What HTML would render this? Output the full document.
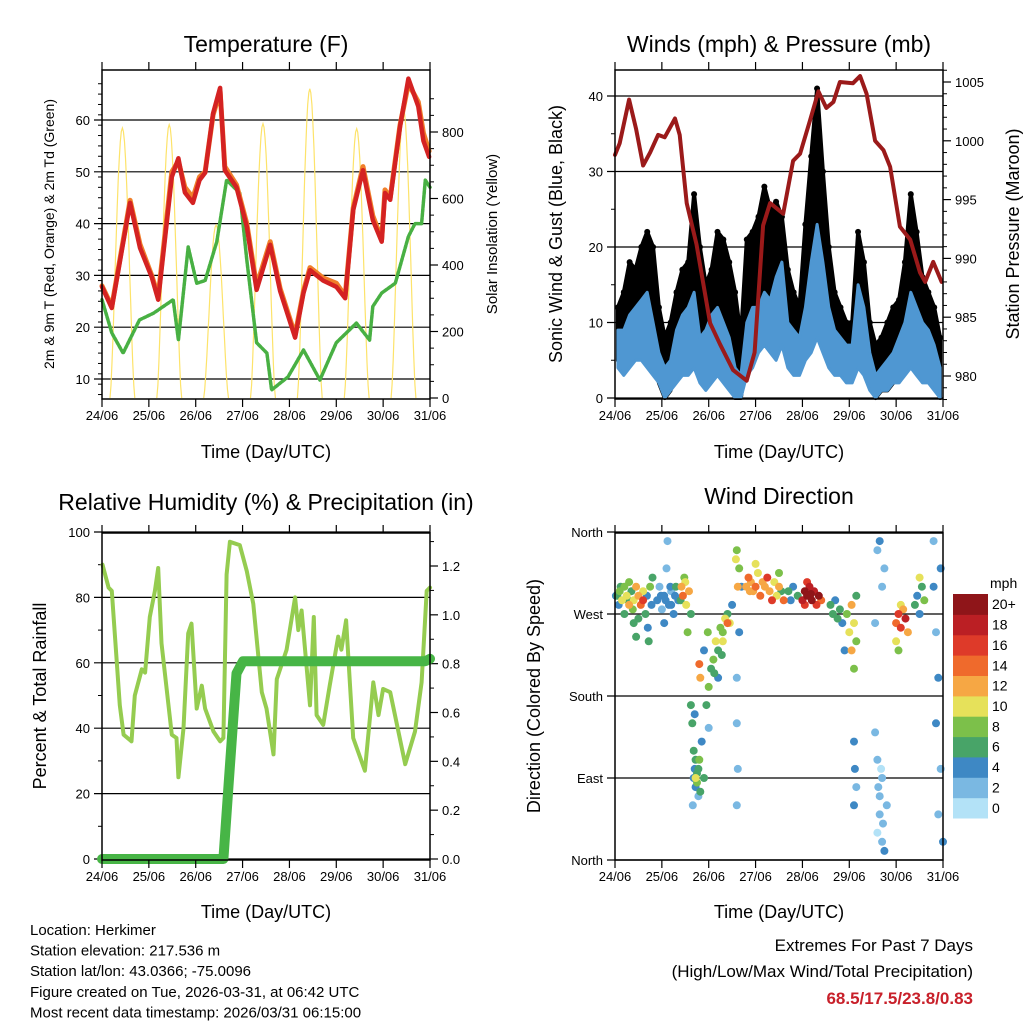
<!DOCTYPE html>
<html><head><meta charset="utf-8"><style>
body{margin:0;background:#fff;}
svg{display:block;font-family:"Liberation Sans",sans-serif;}
</style></head><body>
<svg id="c" width="1024" height="1024" viewBox="0 0 1024 1024"></svg>
<script>
// ---------- DATA ----------
const dayLabels=["24/06","25/06","26/06","27/06","28/06","29/06","30/06","31/06"];
// Temperature (F)
const tempT=[0,0.21,0.6,0.81,1.06,1.2,1.49,1.63,1.77,1.94,2.08,2.2,2.37,2.52,2.62,2.87,3.09,3.3,3.59,3.8,4.12,4.3,4.44,4.72,5.0,5.19,5.36,5.57,5.78,5.97,6.04,6.15,6.36,6.54,6.75,6.86,6.98];
const tempV=[27.8,23.7,44,35.3,29.7,25.3,49,52.6,46,44,48.4,49.8,61.3,66.2,50.3,47,39.4,27.2,35.9,27,18,26.6,31,29,27.8,25.6,42.6,50.3,40.7,36.5,45.9,44.6,58.7,68,62.6,56,52.9];
const temp9V=[28,24,44.5,36,30,26,50,52,47,45,49,50,61,65.5,51,47.5,40,28,36.5,27.5,18.5,27,31.5,29.5,28.5,26,43,51,41.5,37,46.5,45,59,67,63.5,57.5,54];
const dewT=[0,0.21,0.45,0.8,1.1,1.52,1.63,1.84,2.02,2.2,2.45,2.66,2.94,3.09,3.3,3.52,3.62,3.97,4.3,4.65,5.0,5.43,5.71,5.78,5.97,6.26,6.54,6.68,6.82,6.9,7.0];
const dewV=[25.3,18.9,15,21.4,22.7,25.3,17.5,35.5,28.5,29,36.5,48.4,45.9,33,17,15,7.9,10.4,15.6,9.8,17,20.8,17.5,24,26.6,28.5,37.5,40,40,48.4,47];
const solarDay=[0,1,2,3,4,5,6];
const solarPeak=[812,822,520,825,930,810,866];
// Winds (mph) 3-hourly bins & pressure (mb)
const gustV=[12,14,18,17,20,22,20,12, 8,10,14,17,18,27,20,15, 17,22,21,18,14,8,21,22, 24,28,25,26,24,17,14,12, 23,32,41,30,20,14,12,10, 10,22,18,10,7,8,10,12, 13,18,27,22,16,14,12,8];
const windHiV=[9,9,11,12,13,14,10,6, 4,5,9,11,12,14,8,9, 11,12,10,8,4,3,10,12, 12,14,13,16,18,10,9,8, 12,18,23,18,12,9,8,7, 7,15,12,6,3,4,5,6, 8,10,14,12,10,9,7,4];
const windLoV=[4,3,4,5,5,4,3,2, 0,1,2,3,3,4,2,1, 2,3,2,1,0,0,3,4, 6,7,6,5,7,4,3,3, 5,6,8,6,4,3,3,2, 2,4,3,1,0,1,1,2, 2,3,4,3,2,2,1,0];
const presT=[0,0.1,0.3,0.45,0.6,0.75,0.92,1.06,1.28,1.38,1.53,1.74,2.03,2.24,2.52,2.81,2.98,3.16,3.31,3.59,3.8,3.95,4.16,4.34,4.51,4.66,4.8,5.08,5.23,5.37,5.55,5.73,5.87,6.08,6.3,6.51,6.62,6.79,6.97];
const presV=[998.8,999.8,1003.5,1001,997.9,999,1000.5,1000.3,1001.9,1000.5,994.7,991.2,984.5,982.7,980.5,979.6,982,992.8,994.7,993.8,998.3,998.9,1001.7,1004.2,1002.8,1003.3,1005,1004.9,1005.5,1004,1000,999.2,997.8,992.7,991.6,988.8,988,989.7,988];
// RH (%) & precip (in)
const rhT=[0.01,0.14,0.21,0.38,0.46,0.63,0.7,0.85,0.92,1.02,1.13,1.2,1.27,1.49,1.59,1.63,1.74,1.84,1.91,2.02,2.13,2.2,2.38,2.52,2.59,2.66,2.73,2.94,3.09,3.23,3.41,3.51,3.66,3.73,3.94,4.12,4.19,4.26,4.44,4.52,4.58,4.72,4.86,5.04,5.11,5.21,5.36,5.61,5.79,5.9,6.0,6.15,6.47,6.68,6.82,6.93,7.0];
const rhV=[90,83,82,47,38,36,50,58,57,74,82,89,66,38,37,25,40,69,72,46,53,46,39,36,37,87,97,96,88,78,51,46,32,55,64,80,70,76,47,74,44,41,53,68,64,73,37,27,54,44,52,51,29,39,54,82,83];
const precT=[0,2.59,2.7,2.87,3.01,6.9,7.0];
const precV=[0,0,0.3,0.76,0.81,0.81,0.82];
// Wind direction obs: [day, degrees, mph]
const dirObs=[[0.05,290,6],[0.1,295,8],[0.15,285,10],[0.2,300,9],[0.25,290,11],[0.3,280,12],[0.35,295,7],[0.4,285,10],[0.45,300,13],[0.5,290,12],[0.55,280,14],[0.6,295,11],[0.65,270,6],[0.7,255,4],[0.72,240,6],[0.75,300,9],[0.8,310,7],[0.08,280,5],[0.3,305,8],[0.6,285,16],[0.2,270,7],[0.4,260,6],[0.45,245,7],[0.02,290,5],[0.12,300,6],[0.28,285,7],[0.38,275,8],[0.5,265,6],[0.68,290,4],[0.78,280,4],
[0.9,285,4],[0.95,300,3],[1.0,275,2],[1.05,290,4],[1.1,320,3],[1.12,350,2],[1.15,280,5],[1.2,295,3],[1.25,270,4],[1.3,300,6],[1.35,285,4],[1.05,260,4],[1.2,280,4],[0.98,290,4],[1.08,285,5],[1.18,300,4],[1.28,290,4],
[1.42,300,12],[1.45,290,14],[1.5,305,11],[1.52,280,10],[1.55,250,8],[1.58,295,13],[1.62,270,6],[1.48,310,9],[1.4,285,7],
[1.65,150,6],[1.68,120,7],[1.7,100,5],[1.72,80,4],[1.75,95,6],[1.78,70,3],[1.8,110,8],[1.7,160,5],[1.85,130,4],[1.9,90,7],[1.62,170,6],[1.66,60,3],[1.95,170,7],[2.0,190,8],[2.05,210,6],[1.9,230,5],[1.98,250,9],[2.0,145,3],[1.75,85,8],[1.72,90,10],[1.8,215,15],[1.82,200,12],[1.72,110,6],[1.78,100,7],[1.68,90,4],[1.82,75,6],
[2.1,220,8],[2.15,240,10],[2.2,230,7],[2.25,255,9],[2.3,250,8],[2.35,265,11],[2.4,270,6],[2.45,260,10],[2.5,280,4],[2.2,200,5],[2.3,240,10],[2.4,260,14],[2.12,205,6],[2.28,225,6],
[2.58,330,10],[2.6,340,9],[2.62,300,12],[2.65,320,8],[2.6,200,3],[2.6,150,2],[2.62,100,3],[2.6,60,2],[2.65,250,4],[2.7,300,4],
[2.8,300,12],[2.85,310,14],[2.9,305,13],[2.95,295,12],[3.0,300,15],[3.05,315,11],[3.1,290,14],[3.2,300,13],[3.25,310,16],[3.3,295,12],[3.4,305,11],[3.45,290,10],[3.5,300,13],[3.6,285,14],[3.7,295,6],[3.8,300,5],[3.9,290,6],[3.0,325,10],[3.5,315,9],[3.35,285,16],[2.88,295,12],[3.15,305,12],[3.55,295,6],[3.75,285,5],
[4.0,285,18],[4.05,295,20],[4.1,290,22],[4.15,300,19],[4.2,285,21],[4.25,295,18],[4.3,280,16],[4.35,290,20],[4.1,305,17],[4.4,285,14],[4.05,280,16],[4.18,292,21],
[4.6,280,6],[4.65,270,7],[4.7,285,5],[4.8,275,6],[4.85,260,4],[4.95,270,8],[5.0,250,10],[5.05,280,12],[5.1,260,11],[5.15,240,9],[5.1,210,8],[5.05,230,13],[4.9,230,4],[5.15,290,6],[4.75,265,6],
[5.1,130,4],[5.12,100,5],[5.15,80,3],[5.1,60,4],
[5.55,140,2],[5.6,110,3],[5.62,80,2],[5.65,50,3],[5.7,20,2],[5.6,30,1],[5.68,100,1],[5.7,300,3],[5.6,340,2],[5.65,350,4],[5.75,320,3],[5.55,260,2],[5.8,60,3],[5.75,10,4],[5.7,90,2],[5.65,70,2],[5.72,40,3],
[6.0,260,14],[6.05,270,17],[6.1,255,16],[6.15,275,13],[6.2,265,18],[6.25,250,12],[6.0,240,10],[6.1,280,11],[6.05,230,8],
[6.4,280,6],[6.45,290,5],[6.5,270,4],[6.55,300,7],[6.6,285,9],[6.5,310,10],
[6.8,300,4],[6.85,250,3],[6.9,200,5],[6.85,150,4],[6.95,100,3],[6.9,50,2],[7.0,20,4],[6.95,320,5],[6.8,350,3]];
const speedColors=["#b3e2f7","#7ab8e2","#3e88c4","#48a468","#7cc04a","#e6e15a","#f6a744","#ef6a2c","#de3a29","#bb1f24","#8f1519"];
const speedLabels=["0","2","4","6","8","10","12","14","16","18","20+"];

// ---------- HELPERS ----------
const NS="http://www.w3.org/2000/svg";
const svg=document.getElementById('c');
function mk(tag,attrs,parent){const e=document.createElementNS(NS,tag);for(const k in attrs)e.setAttribute(k,attrs[k]);(parent||svg).appendChild(e);return e;}
function txt(s,x,y,size,anchor,parent,extra){const t=mk('text',Object.assign({x:x,y:y,'font-size':size,'text-anchor':anchor||'middle',fill:'#000'},extra||{}),parent);t.textContent=s;return t;}
function lin(d0,d1,r0,r1){return v=>r0+(v-d0)/(d1-d0)*(r1-r0);}

function panel(name){
  const g=mk('g',{});
  
  
  return g;
}
function frame(g,L,R,T,B){mk('rect',{x:L,y:T,width:R-L,height:B-T,fill:'none',stroke:'#000','stroke-width':1.5},g);}
function xAxis(g,L,R,T,B){
  const X=lin(0,7,L,R);
  for(let i=0;i<=7;i++){const x=X(i);
    mk('line',{x1:x,x2:x,y1:B,y2:B+8,stroke:'#000','stroke-width':1.2},g);
    mk('line',{x1:x,x2:x,y1:T,y2:T-8,stroke:'#000','stroke-width':1.2},g);
    const t=txt(dayLabels[i],x,B+21,13,'middle',g);
    
    
  }
  return X;
}
function leftTicks(g,L,R,Y,vals,labels,grid,minor){
  vals.forEach((v,i)=>{const y=Y(v);
    if(grid) mk('line',{x1:L-8,x2:R,y1:y,y2:y,stroke:'#000','stroke-width':1.2},g);
    else mk('line',{x1:L-8,x2:L,y1:y,y2:y,stroke:'#000','stroke-width':1.2},g);
    const t=txt(labels[i],L-12,y+5,13,'end',g);
    
    
  });
  (minor||[]).forEach(v=>{const y=Y(v);mk('line',{x1:L-4,x2:L,y1:y,y2:y,stroke:'#000','stroke-width':1},g);});
}
function rightTicks(g,R,Y,vals,labels,minor){
  vals.forEach((v,i)=>{const y=Y(v);
    mk('line',{x1:R,x2:R+8,y1:y,y2:y,stroke:'#000','stroke-width':1.2},g);
    const t=txt(labels[i],R+12,y+5,13,'start',g);
    
    
  });
  (minor||[]).forEach(v=>{const y=Y(v);mk('line',{x1:R,x2:R+4,y1:y,y2:y,stroke:'#000','stroke-width':1},g);});
}
function poly(g,xs,ys,X,Y,stroke,w,name){
  const p=mk('polyline',{points:xs.map((t,i)=>X(t).toFixed(1)+','+Y(ys[i]).toFixed(1)).join(' '),fill:'none',stroke:stroke,'stroke-width':w,'stroke-linejoin':'round','stroke-linecap':'round'},g);
  
  
  return p;
}
function rot(s,x,y,size,g,name){const t=txt(s,x,y,size,'middle',g,{transform:`rotate(-90 ${x} ${y})`});return t;}
function title(s,x,y,g,name){const t=txt(s,x,y,23,'middle',g);}
function range(a,b,s){const r=[];for(let v=a;v<=b+1e-9;v+=s)r.push(+v.toFixed(4));return r;}

// ---------- PANEL 1: TEMPERATURE ----------
(function(){
  const L=102,R=430,T=70,B=399;
  const g=panel('temperature-chart');
  const X=lin(0,7,L,R), Y=lin(10,60,379,120), Ys=lin(0,800,398,132);
  leftTicks(g,L,R,Y,[10,20,30,40,50,60],["10","20","30","40","50","60"],true,range(7,68,2).filter(v=>v%10));
  rightTicks(g,R,Ys,[0,200,400,600,800],["0","200","400","600","800"],range(50,900,50).filter(v=>v%200));
  solarDay.forEach((d,i)=>{
    const pts=[];for(let k=0;k<=24;k++){const f=k/24;const t=d+0.17+f*0.53;const v=solarPeak[i]*Math.pow(Math.sin(Math.PI*f),1.5);pts.push(X(t).toFixed(1)+','+Ys(v).toFixed(1));}
    const p=mk('polyline',{points:pts.join(' '),fill:'none',stroke:'#fde36a','stroke-width':1.2},g);
    
    
  });
  poly(g,dewT,dewV,X,Y,'#48b043',3.5,'dewpoint-line').setAttribute('stroke-dasharray','3 1.5');
  poly(g,tempT,temp9V,X,Y,'#f07f2a',5,'temp-9m-line');
  poly(g,tempT,tempV,X,Y,'#d42222',4.5,'temp-2m-line');
  frame(g,L,R,T,B);
  xAxis(g,L,R,T,B);
  title('Temperature (F)',266,52,g,'temperature-title');
  rot('2m & 9m T (Red, Orange) & 2m Td (Green)',54,234,14,g,'temperature-y-axis-title');
  rot('Solar Insolation (Yellow)',497,234,15,g,'solar-y-axis-title');
  const xl=txt('Time (Day/UTC)',266,458,18,'middle',g);
})();

// ---------- PANEL 2: WINDS ----------
(function(){
  const L=615,R=943,T=70,B=399;
  const g=panel('winds-pressure-chart');
  const X=lin(0,7,L,R), Y=lin(0,40,398,96), Yp=lin(980,1005,376,82);
  leftTicks(g,L,R,Y,[0,10,20,30,40],["0","10","20","30","40"],true,range(5,40,5).filter(v=>v%10));
  rightTicks(g,R,Yp,[980,985,990,995,1000,1005],["980","985","990","995","1000","1005"],range(978,1006,1).filter(v=>v%5));
  const n=gustV.length;
  const bt=i=>i/8+1/16;
  let up=[],dn=[];
  for(let i=0;i<n;i++){up.push(X(bt(i)).toFixed(1)+','+Y(gustV[i]).toFixed(1));dn.unshift(X(bt(i)).toFixed(1)+','+Y(Math.max(windLoV[i],windHiV[i]-4)).toFixed(1));}
  let p=mk('polygon',{points:up.concat(dn).join(' '),fill:'#000',stroke:'#000','stroke-width':4,'stroke-linejoin':'round'},g);
  
  for(let i=0;i<n;i++){const c=mk('circle',{cx:X(bt(i)),cy:Y(gustV[i]),r:3,fill:'#000'},g);
    
    }
  up=[];dn=[];
  for(let i=0;i<n;i++){up.push(X(bt(i)).toFixed(1)+','+Y(windHiV[i]).toFixed(1));dn.unshift(X(bt(i)).toFixed(1)+','+Y(windLoV[i]).toFixed(1));}
  p=mk('polygon',{points:up.concat(dn).join(' '),fill:'#4f97d2',stroke:'#4f97d2','stroke-width':3,'stroke-linejoin':'round'},g);
  
  poly(g,presT,presV,X,Yp,'#9b1a1a',4,'pressure-line');
  frame(g,L,R,T,B);
  xAxis(g,L,R,T,B);
  title('Winds (mph) & Pressure (mb)',779,52,g,'winds-title');
  rot('Sonic Wind & Gust (Blue, Black)',562,234,18,g,'wind-y-axis-title');
  rot('Station Pressure (Maroon)',1019,234,18,g,'pressure-y-axis-title');
  const xl=txt('Time (Day/UTC)',779,458,18,'middle',g);
})();

// ---------- PANEL 3: RH ----------
(function(){
  const L=102,R=430,T=533,B=860;
  const g=panel('humidity-precip-chart');
  const X=lin(0,7,L,R), Y=lin(0,100,859,532), Yr=lin(0,1.2,859,566);
  leftTicks(g,L,R,Y,[0,20,40,60,80,100],["0","20","40","60","80","100"],true,range(10,90,20));
  rightTicks(g,R,Yr,[0,0.2,0.4,0.6,0.8,1.0,1.2],["0.0","0.2","0.4","0.6","0.8","1.0","1.2"],range(0.1,1.3,0.1).filter(v=>Math.round(v*10)%2));
  poly(g,rhT,rhV,X,Y,'#95cc50',4,'relative-humidity-line');
  poly(g,precT,precV,X,Yr,'#47b546',10,'precipitation-line');
  frame(g,L,R,T,B);
  xAxis(g,L,R,T,B);
  title('Relative Humidity (%) & Precipitation (in)',266,510,g,'humidity-title');
  rot('Percent & Total Rainfall',46,696,18,g,'humidity-y-axis-title');
  const xl=txt('Time (Day/UTC)',266,918,18,'middle',g);
})();

// ---------- PANEL 4: WIND DIRECTION ----------
(function(){
  const L=615,R=943,T=533,B=860;
  const g=panel('wind-direction-chart');
  const X=lin(0,7,L,R), Y=lin(0,360,860,532);
  leftTicks(g,L,R,Y,[0,90,180,270,360],["North","East","South","West","North"],true,[]);
  const sorted=dirObs.slice().sort((a,b)=>a[2]-b[2]);
  sorted.forEach(o=>{
    const idx=Math.min(10,Math.floor(o[2]/2));
    const c=mk('circle',{cx:X(o[0]).toFixed(1),cy:Y(o[1]).toFixed(1),r:4,fill:speedColors[idx]},g);
    
    
  });
  frame(g,L,R,T,B);
  xAxis(g,L,R,T,B);
  title('Wind Direction',779,504,g,'wind-direction-title');
  rot('Direction (Colored By Speed)',540,696,18,g,'direction-y-axis-title');
  const xl=txt('Time (Day/UTC)',779,918,18,'middle',g);
  const cb=mk('g',{});
  
  
  const h=224/11;
  for(let i=0;i<11;i++){
    const r=mk('rect',{x:953,y:(594+(10-i)*h).toFixed(1),width:35,height:(h+0.5).toFixed(1),fill:speedColors[i]},cb);
    
    
    const t=txt(speedLabels[i],992,594+(10-i)*h+h/2+5,14,'start',cb);
    
    
  }
  const u=txt('mph',990,588,14,'start',cb);
})();

// ---------- FOOTER ----------
(function(){
  const g=mk('g',{});
  
  
  ["Location: Herkimer","Station elevation: 217.536 m","Station lat/lon: 43.0366; -75.0096","Figure created on Tue, 2026-03-31, at 06:42 UTC","Most recent data timestamp: 2026/03/31 06:15:00"].forEach((s,i)=>{
    const t=txt(s,30,935+i*20.6,15,'start',g);
    
    
  });
  const e=mk('g',{});
  
  
  txt('Extremes For Past 7 Days',973,951,17,'end',e);
  txt('(High/Low/Max Wind/Total Precipitation)',973,977,17,'end',e);
  txt('68.5/17.5/23.8/0.83',973,1004,17,'end',e,{fill:'#c8202a','font-weight':'bold'});
})();
</script>
</body></html>
